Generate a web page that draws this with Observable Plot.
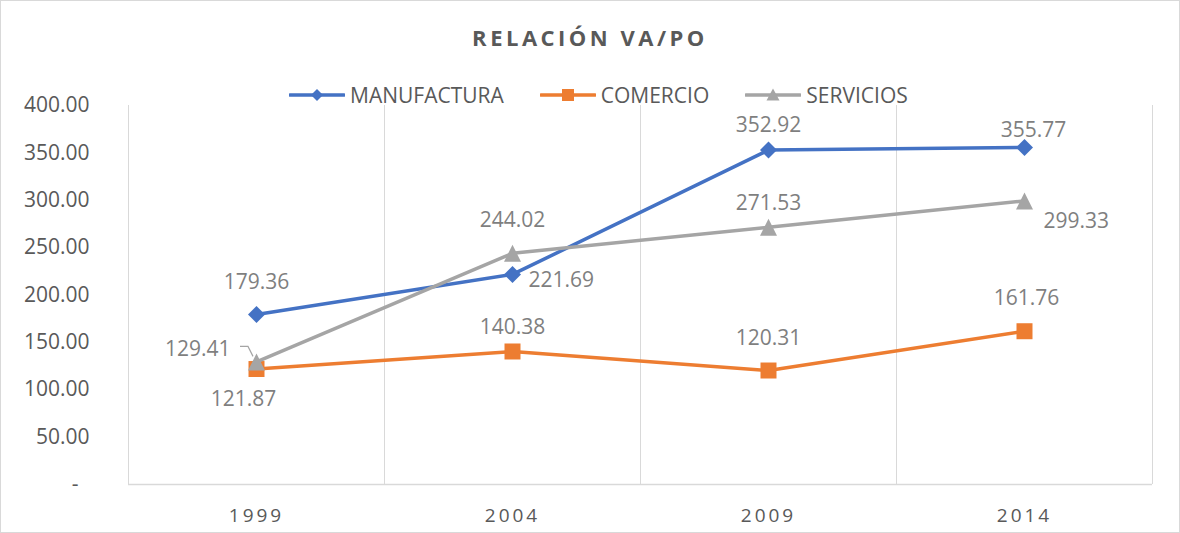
<!DOCTYPE html>
<html>
<head>
<meta charset="utf-8">
<script src="https://cdn.jsdelivr.net/npm/d3@7"></script>
<script src="https://cdn.jsdelivr.net/npm/@observablehq/plot@0.6"></script>
<style>
  html, body { margin: 0; padding: 0; background: #fff; }
  #chart { position: relative; width: 1180px; height: 533px; background: #fff; font-family: "Open Sans", sans-serif; overflow: hidden; }
  #frame { position: absolute; left: 0; top: 0; width: 1180px; height: 533px; box-sizing: border-box; border: 1px solid #d9d9d9; pointer-events: none; z-index: 5; }
  #title { position: absolute; left: 0; top: 22px; width: 1180px; text-align: center; font-size: 22px; font-weight: 700; letter-spacing: 3.5px; color: #595959; line-height: 30px; }
  #legend { position: absolute; left: 289px; top: 81px; height: 28px; display: flex; align-items: center; font-size: 21px; color: #595959; }
  .item { display: flex; align-items: center; margin-right: 36px; }
  .item svg { margin-right: 5px; }
  #plotwrap { position: absolute; left: 0; top: 80px; }
  [aria-label^="x-axis"] text { font-size: 19px; letter-spacing: 3px; fill: #595959; }
  [aria-label^="y-axis"] text { font-size: 21px; fill: #595959; }
</style>
</head>
<body>
<div id="chart">
  <div id="title">RELACIÓN VA/PO</div>
  <div id="legend"></div>
  <div id="plotwrap"></div>
  <div id="frame"></div>
</div>
<script>
// ---- data ----
const years = [1999, 2004, 2009, 2014];
const seriesNames = ["MANUFACTURA", "COMERCIO", "SERVICIOS"];
const manufactura = [179.36, 221.69, 352.92, 355.77];
const comercio = [121.87, 140.38, 120.31, 161.76];
const servicios = [129.41, 244.02, 271.53, 299.33];
const yTicks = [0, 50, 100, 150, 200, 250, 300, 350, 400];

// ---- styling / layout config ----
const colors = {MANUFACTURA: "#4472C4", COMERCIO: "#ED7D31", SERVICIOS: "#A5A5A5"};
// label placement per series/year: [dx, dy, textAnchor]
const labelPlacement = {
  MANUFACTURA: [[0, -32, "middle"], [16, 6, "start"], [0, -25, "middle"], [9, -17, "middle"]],
  COMERCIO:    [[-13, 30, "middle"], [0, -24, "middle"], [0, -32, "middle"], [2, -33, "middle"]],
  SERVICIOS:   [[-26, -13, "end"], [0, -33, "middle"], [0, -24, "middle"], [19, 20, "start"]]
};

// Excel-like marker symbols (half-width = r)
const diamond = {draw(ctx, size) { const r = Math.sqrt(size / Math.PI); ctx.moveTo(0, -r); ctx.lineTo(r, 0); ctx.lineTo(0, r); ctx.lineTo(-r, 0); ctx.closePath(); }};
const square = {draw(ctx, size) { const r = Math.sqrt(size / Math.PI); ctx.rect(-r, -r, 2 * r, 2 * r); }};
const triangle = {draw(ctx, size) { const r = Math.sqrt(size / Math.PI); ctx.moveTo(0, -r); ctx.lineTo(r, r); ctx.lineTo(-r, r); ctx.closePath(); }};
const symbols = {MANUFACTURA: diamond, COMERCIO: square, SERVICIOS: triangle};
const markerR = {MANUFACTURA: 8.5, COMERCIO: 8, SERVICIOS: 8.5};

const valuesBySeries = {MANUFACTURA: manufactura, COMERCIO: comercio, SERVICIOS: servicios};
const rows = seriesNames.flatMap(s => years.map((yr, i) => ({series: s, year: yr, value: valuesBySeries[s][i], idx: i})));
const boundaries = years.map(y => y - 2.5).concat([years[years.length - 1] + 2.5]);

const fmt = d3.format(".2f");

const marks = [];
marks.push(Plot.ruleX(boundaries, {stroke: "#d9d9d9", strokeWidth: 1}));
marks.push(Plot.ruleY([0], {stroke: "#d9d9d9", strokeWidth: 1.5}));

// leader line for the SERVICIOS 1999 label
marks.push((...args) => {
  const sc = args.find(a => a && typeof a.x === "function" && typeof a.y === "function");
  const g = document.createElementNS("http://www.w3.org/2000/svg", "g");
  if (!sc) return g;
  const px = sc.x(years[0]), py = sc.y(servicios[0]);
  const p = document.createElementNS("http://www.w3.org/2000/svg", "path");
  p.setAttribute("d", `M${px - 16},${py - 15}H${px - 8}L${px - 3},${py - 5}`);
  p.setAttribute("fill", "none");
  p.setAttribute("stroke", "#A5A5A5");
  p.setAttribute("stroke-width", "1.2");
  g.appendChild(p);
  return g;
});

for (const s of seriesNames) {
  const data = rows.filter(d => d.series === s);
  marks.push(Plot.line(data, {x: "year", y: "value", stroke: colors[s], strokeWidth: 3.5, strokeLinejoin: "round"}));
  marks.push(Plot.dot(data, {x: "year", y: "value", symbol: symbols[s], r: markerR[s], fill: colors[s], stroke: "none"}));
}
for (const s of seriesNames) {
  rows.filter(d => d.series === s).forEach(d => {
    const [dx, dy, anchor] = labelPlacement[s][d.idx];
    marks.push(Plot.text([d], {x: "year", y: "value", text: r => fmt(r.value), dx, dy, textAnchor: anchor,
      fontSize: 21, fill: "#7f7f7f", fontFamily: "Open Sans"}));
  });
}

const plot = Plot.plot({
  width: 1180,
  height: 453,
  marginTop: 25,
  marginBottom: 49,
  marginLeft: 128,
  marginRight: 28,
  style: {fontFamily: "Open Sans", fontSize: "21px", color: "#595959", background: "transparent", overflow: "visible"},
  x: {domain: [boundaries[0], boundaries[boundaries.length - 1]], ticks: years, tickFormat: d => String(d), tickSize: 0, tickPadding: 24, label: null},
  y: {domain: [0, 400], ticks: yTicks, tickFormat: d => d === 0 ? "-\u00a0\u00a0" : fmt(d), tickSize: 0, tickPadding: 39, label: null},
  marks
});
document.getElementById("plotwrap").appendChild(plot);

// legend
const legend = document.getElementById("legend");
for (const s of seriesNames) {
  const item = document.createElement("div");
  item.className = "item";
  const c = colors[s];
  let shape;
  if (s === "MANUFACTURA") shape = `<path d="M28,4L34,10L28,16L22,10Z" fill="${c}"/>`;
  else if (s === "COMERCIO") shape = `<rect x="22" y="4" width="12" height="12" fill="${c}"/>`;
  else shape = `<path d="M28,3.5L34.5,15.5L21.5,15.5Z" fill="${c}"/>`;
  item.innerHTML = `<svg width="56" height="20"><line x1="1" y1="10" x2="55" y2="10" stroke="${c}" stroke-width="3.5" stroke-linecap="round"/>${shape}</svg><span>${s}</span>`;
  legend.appendChild(item);
}
</script>
</body>
</html>
